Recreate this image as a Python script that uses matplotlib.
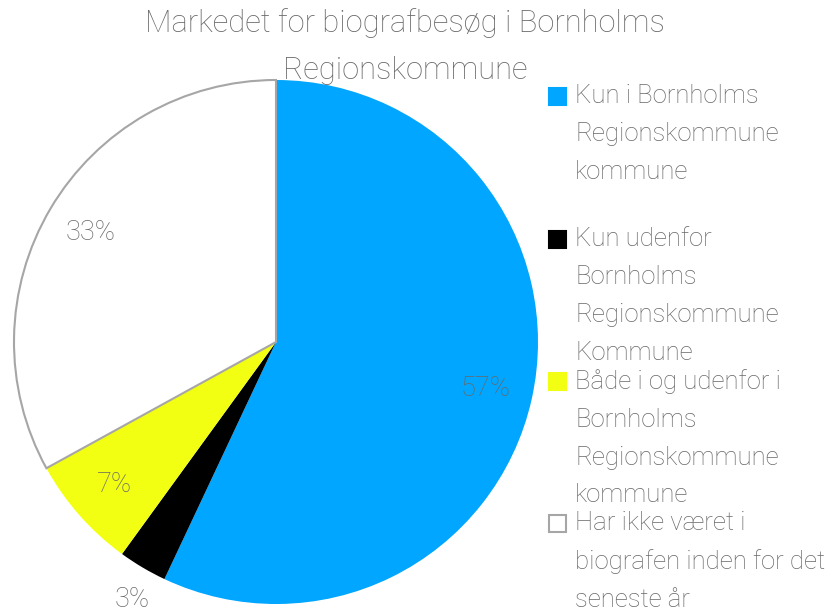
import matplotlib.pyplot as plt
from matplotlib.patches import Rectangle

# data
labels = ['Kun i Bornholms\nRegionskommune\nkommune',
          'Kun udenfor\nBornholms\nRegionskommune\nKommune',
          'Både i og udenfor i\nBornholms\nRegionskommune\nkommune',
          'Har ikke været i\nbiografen inden for det\nseneste år']
shares = [57, 3, 7, 33]
colors = ['#00A6FF', '#000000', '#F2FF12', '#FFFFFF']
edges = ['none', 'none', 'none', '#A6A6A6']
title = 'Markedet for biografbesøg i Bornholms\nRegionskommune'

txtcol = '#686868'
fam = ['Roboto', 'DejaVu Sans']
wt = 'light'

fig = plt.figure(figsize=(8.35, 6.10), dpi=100)
W, H = 835, 610

# pie axes: centre (276,342), radius 262 px
cx, cy, r = 276, 342, 262
ax = fig.add_axes([(cx - r) / W, (H - cy - r) / H, 2 * r / W, 2 * r / H])
wedges, texts, pcts = ax.pie(shares, colors=colors, startangle=90, counterclock=False,
                             autopct='%d%%', pctdistance=0.82, radius=1,
                             textprops=dict(color=txtcol, fontsize=19.5, family=fam, weight=wt))
for w, ec in zip(wedges, edges):
    if ec != 'none':
        w.set_edgecolor(ec)
        w.set_linewidth(1.5)
# small slice label sits outside
x3, y3 = pcts[1].get_position()
pcts[1].set_position((x3 / 0.82 * 1.14 + 0.03, y3 / 0.82 * 1.14))
ax.set_xlim(-1, 1)
ax.set_ylim(-1, 1)
ax.axis('off')

fig.text(405 / W, 1 - 8 / H, title, ha='center', va='top', color=txtcol,
         fontsize=22.2, family=fam, weight=wt, linespacing=1.8)

# legend, placed by hand
tops = [84, 227, 369, 511]
for lab, col, ec, t in zip(labels, colors, edges, tops):
    fig.patches.append(Rectangle((549 / W, 1 - (t + 21) / H), 17 / W, 17 / H,
                                 transform=fig.transFigure, facecolor=col,
                                 edgecolor=('#A6A6A6' if ec != 'none' else col), lw=1.5))
    fig.text(575 / W, 1 - t / H, lab, ha='left', va='top', color=txtcol,
             fontsize=18.5, family=fam, weight=wt, linespacing=1.73)

fig.savefig('out.png', dpi=100)
